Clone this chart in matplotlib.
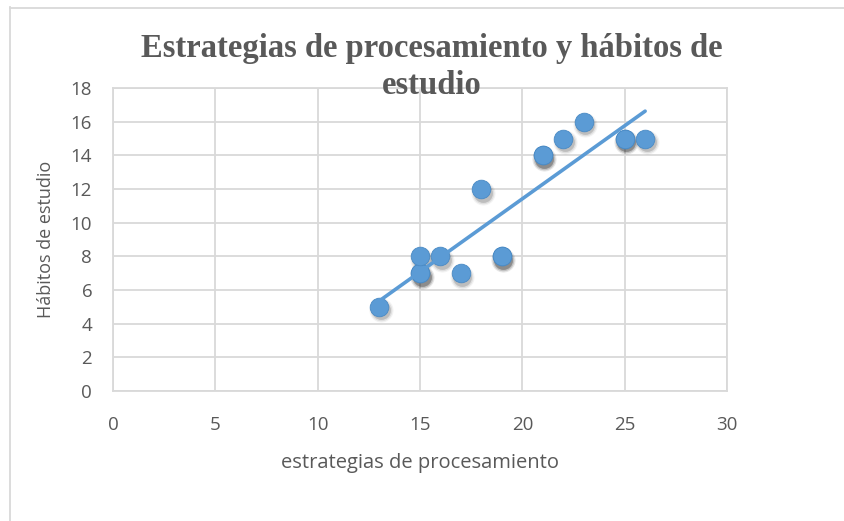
import numpy as np
import matplotlib
matplotlib.use("Agg")
import matplotlib.pyplot as plt
from matplotlib.lines import Line2D
import matplotlib.transforms as mtransforms

# Data
estrategias = [13, 15, 15, 15, 16, 17, 18, 19, 19, 21, 21, 22, 23, 25, 25, 26]
habitos     = [5, 7, 7, 8, 8, 7, 12, 8, 8, 14, 14, 15, 16, 15, 15, 15]
x_ticks = [0, 5, 10, 15, 20, 25, 30]
y_ticks = [0, 2, 4, 6, 8, 10, 12, 14, 16, 18]
title = "Estrategias de procesamiento y hábitos de\nestudio"
xlabel = "estrategias de procesamiento"
ylabel = "Hábitos de estudio"

W, H = 844, 521
fig = plt.figure(figsize=(W / 100, H / 100), dpi=100)
fig.patch.set_facecolor("white")

ax = fig.add_axes([113 / W, 1 - 391 / H, (727 - 113) / W, (391 - 88) / H])
text_col = "#595959"
grid_col = "#d9d9d9"
blue = "#5b9bd5"

ax.set_xlim(0, 30)
ax.set_ylim(0, 18)
ax.set_xticks(x_ticks)
ax.set_yticks(y_ticks)
ax.grid(True, color=grid_col, linewidth=1.3)
ax.set_axisbelow(True)
for s in ax.spines.values():
    s.set_color(grid_col)
    s.set_linewidth(1.3)
ax.tick_params(length=0, labelsize=13.5, labelcolor=text_col)
ax.tick_params(axis="x", pad=18)
ax.tick_params(axis="y", pad=15)
for lab in ax.get_xticklabels() + ax.get_yticklabels():
    lab.set_fontfamily("Open Sans")

# shadows
x = np.array(estrategias, dtype=float)
y = np.array(habitos, dtype=float)
for sz, a in [(300, 0.05), (240, 0.08), (185, 0.15)]:
    tr = mtransforms.offset_copy(ax.transData, fig=fig, x=1.5, y=-3.5, units="dots")
    ax.scatter(x, y, s=sz, color="black", alpha=a, linewidths=0, transform=tr, zorder=2)

ax.scatter(x, y, s=180, color=blue, edgecolors="#4a8ac4", linewidths=0.6, zorder=3)

# linear trendline
m, b = np.polyfit(x, y, 1)
xs = np.array([x.min(), x.max()])
ax.plot(xs, m * xs + b, color=blue, linewidth=2.6, solid_capstyle="round", zorder=4)

ax.set_xlabel(xlabel, fontsize=14.5, color=text_col, fontfamily="Open Sans", labelpad=14)
ax.set_ylabel(ylabel, fontsize=13, color=text_col, fontfamily="Open Sans", labelpad=11)

fig.text(432 / W, 1 - 33 / H, title, ha="center", va="top", fontsize=23.5,
         fontweight="bold", fontfamily="Liberation Serif", color=text_col,
         linespacing=1.25, multialignment="center")

# chart border
fig.add_artist(Line2D([9.5 / W, 9.5 / W], [0, 1 - 7 / H], transform=fig.transFigure,
                      color="#d9d9d9", linewidth=1.3))
fig.add_artist(Line2D([9.5 / W, 1], [1 - 7.5 / H, 1 - 7.5 / H], transform=fig.transFigure,
                      color="#d9d9d9", linewidth=1.3))

fig.savefig("out.png", dpi=100)
